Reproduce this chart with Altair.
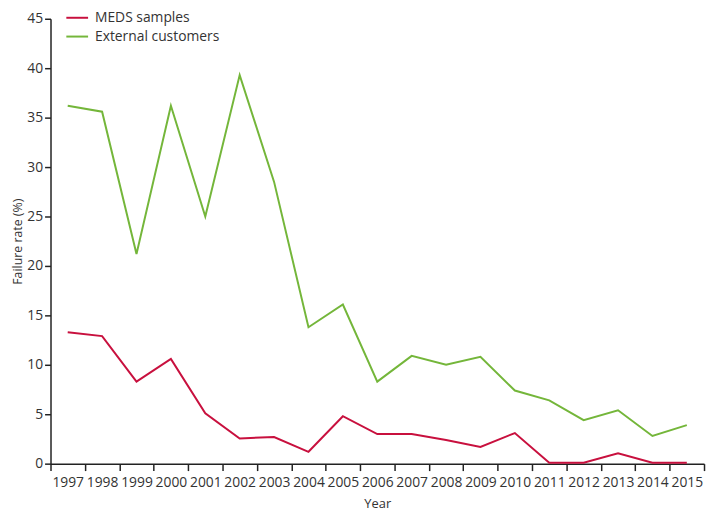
import altair as alt
import pandas as pd

years = list(range(1997, 2016))
meds = [13.3, 12.9, 8.3, 10.6, 5.1, 2.55, 2.7, 1.2, 4.8, 3.0, 3.0, 2.4, 1.7, 3.1, 0.1, 0.1, 1.05, 0.1, 0.1]
external = [36.2, 35.6, 21.2, 36.2, 25.0, 39.3, 28.5, 13.8, 16.1, 8.3, 10.9, 10.0, 10.8, 7.4, 6.4, 4.4, 5.4, 2.8, 3.9]
series_names = ["MEDS samples", "External customers"]
colors = ["#c8103e", "#74b63a"]

rows = []
for y, v in zip(years, meds):
    rows.append({"year": y, "rate": v, "series": series_names[0]})
for y, v in zip(years, external):
    rows.append({"year": y, "rate": v, "series": series_names[1]})
df = pd.DataFrame(rows)

W = 661
H = 450
step = W / len(years)
tick_vals = [y - 0.5 for y in years] + [years[-1] + 0.5]

font = "Open Sans"

chart = alt.Chart(df).mark_line(strokeWidth=2).encode(
    x=alt.X("year:Q",
            scale=alt.Scale(domain=[years[0] - 0.5, years[-1] + 0.5], nice=False, zero=False),
            axis=alt.Axis(values=tick_vals, title="Year", grid=False,
                          labelExpr="datum.value < 2015 ? toString(datum.value + 0.5) : ''",
                          labelOffset=step / 2, labelOverlap=False, labelFlush=False,
                          tickSize=7, labelPadding=5, titlePadding=8)),
    y=alt.Y("rate:Q",
            scale=alt.Scale(domain=[0, 45], nice=False),
            axis=alt.Axis(values=list(range(0, 50, 5)), title="Failure rate (%)", grid=False,
                          tickSize=6, labelPadding=2, titlePadding=2, titleFontSize=12.5)),
    color=alt.Color("series:N",
                    scale=alt.Scale(domain=series_names, range=colors),
                    sort=series_names,
                    legend=alt.Legend(title=None, orient="none", legendX=15, legendY=-13,
                                      symbolType="stroke", symbolSize=484, symbolStrokeWidth=2,
                                      labelFontSize=14, labelFont=font, labelColor="#333333",
                                      rowPadding=0, labelOffset=6)),
).properties(
    width=W, height=H,
    padding={"left": 43, "top": 8, "right": 2, "bottom": 46},
    autosize=alt.AutoSizeParams(type="none"),
).configure_view(stroke=None).configure_axis(
    labelFont=font, titleFont=font, labelFontSize=14, titleFontSize=13,
    titleFontWeight="normal", labelColor="#333333", titleColor="#333333",
    domainColor="#222222", tickColor="#222222", domainWidth=1.5, tickWidth=1.5,
)

chart.save("out.html", embed_options={"renderer": "svg", "actions": False})
